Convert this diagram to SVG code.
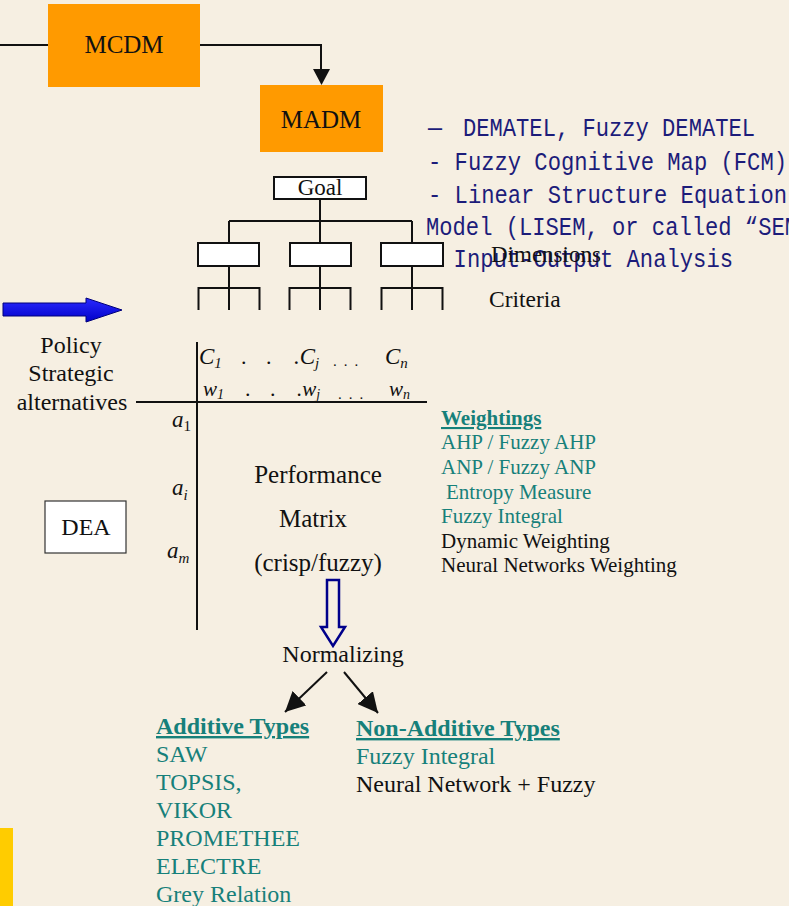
<svg xmlns="http://www.w3.org/2000/svg" width="789" height="906" viewBox="0 0 789 906">
<style>
.serif{font-family:"Liberation Serif","Times New Roman",serif;fill:#111}
.mono{font-family:"Liberation Mono","Courier New",monospace;fill:#1c1c7a;font-size:25px}
.teal{fill:#16807a}
.hd{font-weight:bold;text-decoration:underline}
.ln{stroke:#111;stroke-width:2;fill:none}
.box{fill:#fff;stroke:#111;stroke-width:2}
.org{fill:#ff9a00}
.it{font-style:italic}
</style>
<defs>
<marker id="ahb" viewBox="0 0 10 10" refX="10" refY="5" markerWidth="20" markerHeight="20" markerUnits="userSpaceOnUse" orient="auto"><path d="M0,0L10,5L0,10z" fill="#111"/></marker>
<linearGradient id="bl" x1="0" y1="0" x2="0" y2="1"><stop offset="0" stop-color="#2a2aff"/><stop offset="1" stop-color="#0000c8"/></linearGradient>
</defs>
<rect width="789" height="906" fill="#f6efe2"/>

<g id="connectors">
<path class="ln" d="M0,45H48" stroke-width="1.5"/>
<path class="ln" d="M200,45H321V70" stroke-width="1.5"/>
<path d="M313,69L330,69L321.5,85z" fill="#111"/>
<path class="ln" d="M320,199V221M229,221H412M229,221V243M320,221V243M412,221V243"/>
<path class="ln" d="M229,266V310M198.5,310V288H259.5V310"/>
<path class="ln" d="M320,266V310M289.5,310V288H350.5V310"/>
<path class="ln" d="M412,266V310M381.5,310V288H442.5V310"/>
<path class="ln" d="M197,342V630M136,402H427"/>
<path d="M3,303H86V298L122,310L86,322V316H3z" fill="url(#bl)" stroke="#00007a" stroke-width="1"/>
<path d="M327,580H339V627H345L333,646L321,627H327z" fill="none" stroke="#00008b" stroke-width="2.5"/>
<path d="M327,672L285,712" stroke="#111" stroke-width="2" marker-end="url(#ahb)"/>
<path d="M344,672L378,713" stroke="#111" stroke-width="2" marker-end="url(#ahb)"/>
</g>

<g id="mcdm"><rect class="org" x="48" y="4" width="152" height="83"/><text class="serif" x="124" y="53" font-size="25" text-anchor="middle">MCDM</text></g>
<g id="madm"><rect class="org" x="260" y="85" width="123" height="67"/><text class="serif" x="321" y="128" font-size="25" text-anchor="middle">MADM</text></g>

<g id="methods">
<text class="mono" x="428" y="136" textLength="14" lengthAdjust="spacingAndGlyphs">—</text>
<text class="mono" x="463" y="136" textLength="292" lengthAdjust="spacingAndGlyphs">DEMATEL, Fuzzy DEMATEL</text>
<text class="mono" x="428" y="170" textLength="359" lengthAdjust="spacingAndGlyphs">- Fuzzy Cognitive Map (FCM)</text>
<text class="mono" x="428" y="203" textLength="359" lengthAdjust="spacingAndGlyphs">- Linear Structure Equation</text>
<text class="mono" x="426" y="235" textLength="372" lengthAdjust="spacingAndGlyphs">Model (LISEM, or called “SEM</text>
<text class="mono" x="427" y="267" textLength="306" lengthAdjust="spacingAndGlyphs">- Input-Output Analysis</text>
</g>

<g id="goal"><rect class="box" x="274" y="177" width="92" height="22" stroke-width="1.5"/><text class="serif" x="320" y="195" font-size="23" text-anchor="middle">Goal</text></g>
<g id="dim1"><rect class="box" x="198" y="243" width="61" height="23"/></g>
<g id="dim2"><rect class="box" x="290" y="243" width="61" height="23"/></g>
<g id="dim3"><rect class="box" x="381" y="243" width="62" height="23"/></g>
<g id="labels">
<text class="serif" x="491" y="262" font-size="23">Dimensions</text>
<text class="serif" x="489" y="307" font-size="23.5">Criteria</text>
</g>

<g id="alternatives" class="serif" font-size="24" text-anchor="middle">
<text x="71" y="353" class="serif">Policy</text>
<text x="71" y="381" class="serif">Strategic</text>
<text x="72" y="410" class="serif">alternatives</text>
</g>

<g id="matrix-header" class="serif" font-size="22">
<text class="serif it" x="199" y="364" font-size="23">C<tspan font-size="15" dy="4">1</tspan></text>
<text class="serif" x="241" y="364" font-size="22">.</text>
<text class="serif" x="266" y="364" font-size="22">.</text>
<text class="serif it" x="294" y="364" font-size="23">.C<tspan font-size="15" dy="4">j</tspan></text>
<text class="serif" x="333" y="366" font-size="15" letter-spacing="7">...</text>
<text class="serif it" x="385" y="364" font-size="23">C<tspan font-size="15" dy="4">n</tspan></text>
<text class="serif it" x="203" y="396" font-size="21">w<tspan font-size="14" dy="3">1</tspan></text>
<text class="serif" x="245" y="396" font-size="22">.</text>
<text class="serif" x="270" y="396" font-size="22">.</text>
<text class="serif it" x="297" y="396" font-size="21">.w<tspan font-size="14" dy="3">j</tspan></text>
<text class="serif" x="338" y="399" font-size="15" letter-spacing="7">...</text>
<text class="serif it" x="389" y="396" font-size="21">w<tspan font-size="14" dy="3">n</tspan></text>
<text class="serif it" x="172" y="427" font-size="23">a<tspan font-style="normal" font-size="15" dy="4">1</tspan></text>
<text class="serif it" x="172" y="495" font-size="23">a<tspan font-size="15" dy="5">i</tspan></text>
<text class="serif it" x="167" y="558" font-size="23">a<tspan font-size="15" dy="5">m</tspan></text>
</g>

<g id="performance" class="serif" font-size="25" text-anchor="middle">
<text class="serif" x="318" y="483">Performance</text>
<text class="serif" x="313" y="527">Matrix</text>
<text class="serif" x="318" y="571">(crisp/fuzzy)</text>
</g>

<g id="dea"><rect x="45" y="501" width="81" height="52" fill="#fff" stroke="#333" stroke-width="1.2"/><text class="serif" x="86" y="535" font-size="24" text-anchor="middle">DEA</text></g>

<g id="weightings" font-size="21">
<text class="serif teal hd" x="441" y="425">Weightings</text>
<text class="serif teal" x="441" y="449">AHP / Fuzzy AHP</text>
<text class="serif teal" x="441" y="474">ANP / Fuzzy ANP</text>
<text class="serif teal" x="446" y="499">Entropy Measure</text>
<text class="serif teal" x="441" y="523">Fuzzy Integral</text>
<text class="serif" x="441" y="548">Dynamic Weighting</text>
<text class="serif" x="441" y="572">Neural Networks Weighting</text>
</g>

<g id="normalizing"><text class="serif" x="343" y="662" font-size="24" text-anchor="middle">Normalizing</text></g>

<g id="additive" font-size="24">
<text class="serif teal hd" x="156" y="734">Additive Types</text>
<text class="serif teal" x="156" y="762">SAW</text>
<text class="serif teal" x="156" y="790">TOPSIS,</text>
<text class="serif teal" x="156" y="818">VIKOR</text>
<text class="serif teal" x="156" y="846">PROMETHEE</text>
<text class="serif teal" x="156" y="874">ELECTRE</text>
<text class="serif teal" x="156" y="902">Grey Relation</text>
</g>

<g id="nonadditive" font-size="24">
<text class="serif teal hd" x="356" y="736">Non-Additive Types</text>
<text class="serif teal" x="356" y="764">Fuzzy Integral</text>
<text class="serif" x="356" y="792">Neural Network + Fuzzy</text>
</g>

<rect x="0" y="828" width="13" height="78" fill="#ffcc00"/>
</svg>
